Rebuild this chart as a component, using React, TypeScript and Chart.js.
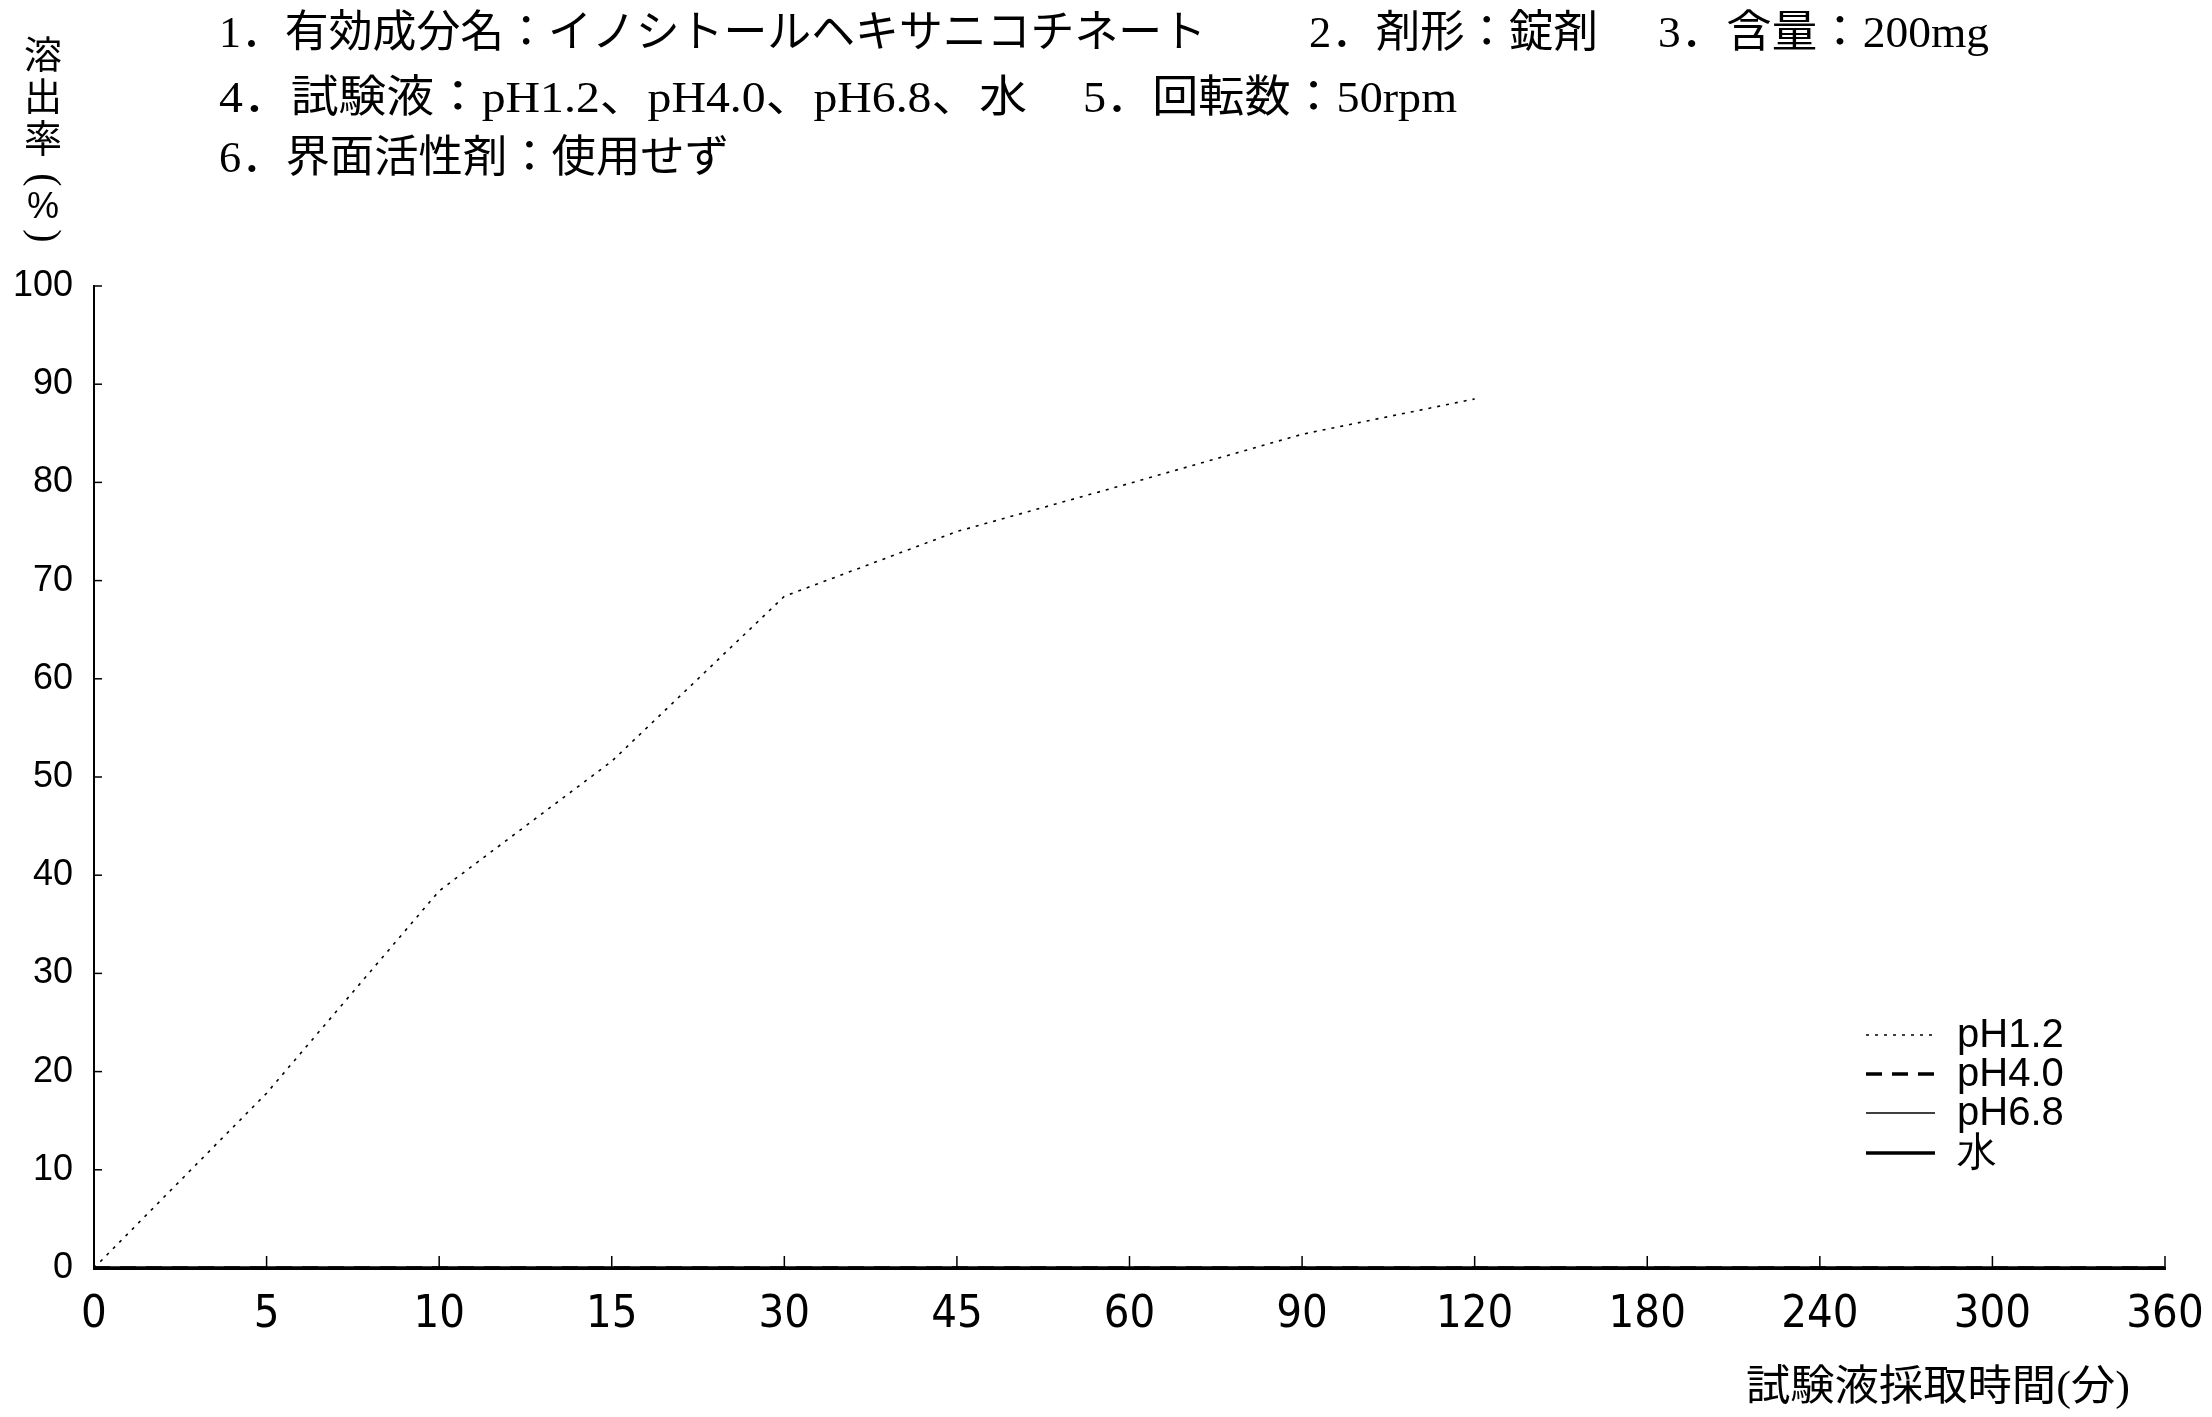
import React, { useEffect, useRef } from "react";
import { Chart, registerables } from "chart.js";

Chart.register(...registerables);

// ---- data ----
const categories = ["0", "5", "10", "15", "30", "45", "60", "90", "120", "180", "240", "300", "360"];
const ph12 = [0, 17.8, 38.4, 51.6, 68.4, 75.0, 79.9, 84.9, 88.5, null, null, null, null];
const ph40 = [0, 0, 0, 0, 0, 0, 0, 0, 0, 0, 0, 0, 0];
const ph68 = [0, 0, 0, 0, 0, 0, 0, 0, 0, 0, 0, 0, 0];
const water = [0, 0, 0, 0, 0, 0, 0, 0, 0, 0, 0, 0, 0];
const seriesNames = ["pH1.2", "pH4.0", "pH6.8", "水"];
const yTickValues = [0, 10, 20, 30, 40, 50, 60, 70, 80, 90, 100];
const titleSegments = [
  "1．有効成分名：イノシトールヘキサニコチネート",
  "2．剤形：錠剤",
  "3．含量：200mg",
  "4．試験液：pH1.2、pH4.0、pH6.8、水",
  "5．回転数：50rpm",
  "6．界面活性剤：使用せず",
];
const yTitleChars = ["溶", "出", "率", "(", "%", ")"];
const xTitle = "試験液採取時間(分)";

// ---- layout (positions / styles) ----
const W = 2212;
const H = 1417;
const titleLayout = [
  { x: 219, y: 35, w: 987 },
  { x: 1309, y: 35, w: 289 },
  { x: 1658, y: 35, w: 331 },
  { x: 219, y: 100, w: 808 },
  { x: 1083, y: 100, w: 374 },
  { x: 219, y: 160, w: 510 },
];
const yTitleYs = [58, 100, 142, 180, 208, 236];
const seriesStyles = [
  { dash: [3, 6], width: 1.6 },
  { dash: [16, 10], width: 3.5 },
  { dash: [], width: 1.5 },
  { dash: [], width: 3.5 },
];
const legendRowsY = [1035, 1074, 1113, 1153];

const SERIF_FONT = '"Liberation Serif", "Noto Sans CJK JP", serif';

const overlayPlugin = {
  id: "overlay",
  afterDraw(chart: any) {
    const ctx: CanvasRenderingContext2D = chart.ctx;
    const xs = chart.scales.x;
    const ys = chart.scales.y;
    ctx.save();
    ctx.fillStyle = "#000";
    ctx.strokeStyle = "#000";

    // inward ticks
    ctx.lineWidth = 1.5;
    ctx.setLineDash([]);
    const left = chart.chartArea.left;
    const bottom = chart.chartArea.bottom;
    yTickValues.forEach((v) => {
      const py = ys.getPixelForValue(v);
      ctx.beginPath();
      ctx.moveTo(left, py);
      ctx.lineTo(left + 8, py);
      ctx.stroke();
    });
    categories.forEach((_c, i) => {
      const px = xs.getPixelForValue(i);
      ctx.beginPath();
      ctx.moveTo(px, bottom);
      ctx.lineTo(px, bottom - 12);
      ctx.stroke();
    });

    // title block
    ctx.textBaseline = "middle";
    ctx.textAlign = "left";
    ctx.font = `44px ${SERIF_FONT}`;
    titleSegments.forEach((t, i) => {
      const L = titleLayout[i];
      const m = ctx.measureText(t).width;
      ctx.save();
      ctx.translate(L.x, L.y);
      ctx.scale(L.w / m, 1);
      ctx.fillText(t, 0, 0);
      ctx.restore();
    });

    // y-axis title (vertical; parentheses rotated)
    ctx.textAlign = "center";
    yTitleChars.forEach((c, i) => {
      const y = yTitleYs[i];
      if (c === "(" || c === ")") {
        ctx.save();
        ctx.font = `40px "Liberation Serif", serif`;
        ctx.translate(43, y);
        ctx.rotate(Math.PI / 2);
        ctx.scale(1, 1.05);
        ctx.fillText(c, 0, 0);
        ctx.restore();
      } else if (c === "%") {
        ctx.font = `36px "Liberation Sans", sans-serif`;
        ctx.fillText(c, 43, y);
      } else {
        ctx.font = `38px ${SERIF_FONT}`;
        ctx.fillText(c, 43, y);
      }
    });

    // x-axis title
    ctx.textAlign = "left";
    ctx.font = `42px ${SERIF_FONT}`;
    {
      const m = ctx.measureText(xTitle).width;
      ctx.save();
      ctx.translate(1746, 1389);
      ctx.scale(384 / m, 1);
      ctx.fillText(xTitle, 0, 0);
      ctx.restore();
    }

    // legend
    ctx.font = '40px "Liberation Sans", Arial, sans-serif';
    seriesNames.forEach((name, i) => {
      const y = legendRowsY[i];
      const st = seriesStyles[i];
      ctx.lineWidth = st.width;
      ctx.setLineDash(st.dash);
      ctx.beginPath();
      ctx.moveTo(1866, y);
      ctx.lineTo(1935, y);
      ctx.stroke();
      ctx.setLineDash([]);
      ctx.textAlign = "left";
      ctx.textBaseline = "middle";
      ctx.fillText(name, 1957, y + 1);
    });

    ctx.restore();
  },
};

export default function App() {
  const ref = useRef<HTMLCanvasElement | null>(null);

  useEffect(() => {
    document.body.style.margin = "0";
    const canvas = ref.current;
    if (!canvas) return;
    const seriesData = [ph12, ph40, ph68, water];
    const chart = new Chart(canvas, {
      type: "line",
      data: {
        labels: categories,
        datasets: seriesNames.map((name, i) => ({
          label: name,
          data: seriesData[i] as any,
          borderColor: "#000",
          backgroundColor: "#000",
          borderWidth: seriesStyles[i].width,
          borderDash: seriesStyles[i].dash,
          pointRadius: 0,
          tension: 0,
          fill: false,
          spanGaps: false,
          clip: 4,
        })),
      },
      options: {
        responsive: false,
        animation: false,
        devicePixelRatio: 1,
        layout: { padding: { top: 286, right: 47, left: 0, bottom: 0 } },
        plugins: {
          legend: { display: false },
          tooltip: { enabled: false },
          title: { display: false },
        },
        scales: {
          x: {
            type: "category",
            offset: false,
            grid: { display: true, drawOnChartArea: false, drawTicks: false },
            border: { display: true, color: "#000", width: 3 },
            ticks: {
              color: "#000",
              autoSkip: false,
              maxRotation: 0,
              minRotation: 0,
              padding: 20,
              font: { family: '"Liberation Sans Narrow", "DejaVu Sans Condensed", sans-serif', size: 45 },
            },
            afterFit: (scale: any) => {
              scale.height = H - 1268;
              scale.paddingRight = 0;
              scale.paddingLeft = 0;
            },
          },
          y: {
            type: "linear",
            min: 0,
            max: 100,
            grid: { display: true, drawOnChartArea: false, drawTicks: false },
            border: { display: true, color: "#000", width: 2 },
            ticks: {
              color: "#000",
              stepSize: 10,
              padding: 21,
              font: { family: '"Liberation Sans", Arial, sans-serif', size: 36 },
            },
            afterFit: (scale: any) => {
              scale.width = 94;
            },
          },
        },
      },
      plugins: [overlayPlugin],
    });
    return () => chart.destroy();
  }, []);

  return (
    <div style={{ position: "absolute", left: 0, top: 0, width: W, height: H, background: "#fff" }}>
      <canvas ref={ref} width={W} height={H} style={{ display: "block" }} />
    </div>
  );
}
